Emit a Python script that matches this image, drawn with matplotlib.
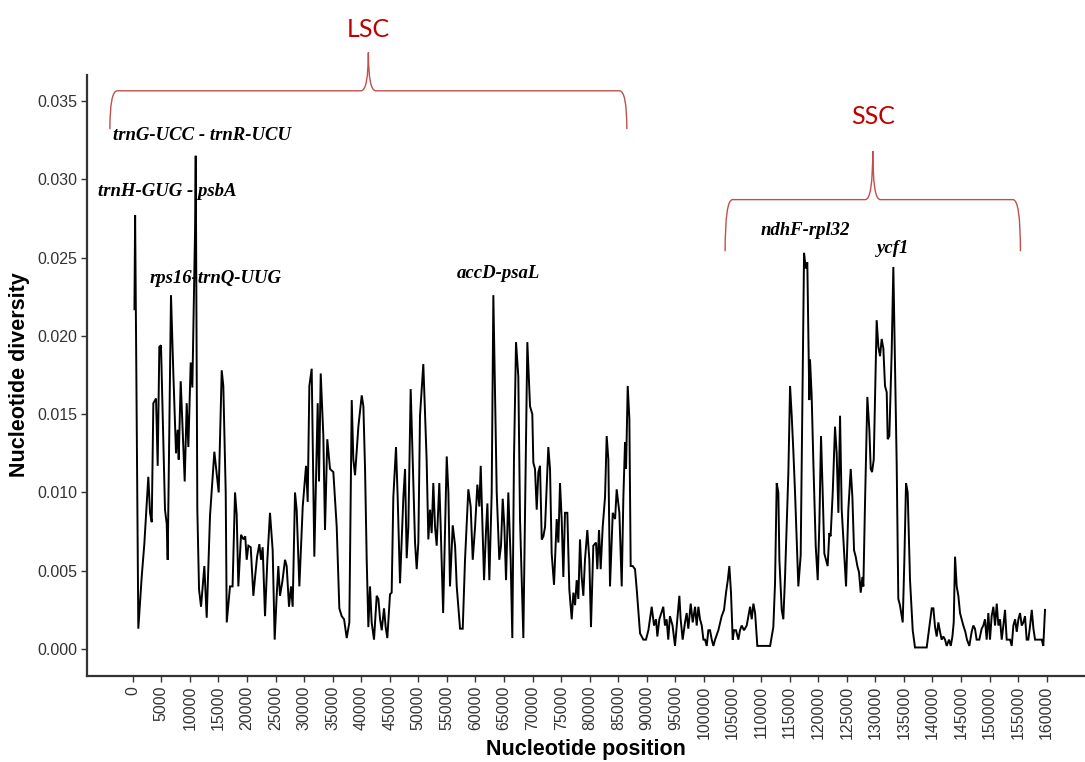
import numpy as np
import matplotlib.pyplot as plt
from matplotlib.path import Path
from matplotlib.patches import PathPatch

# sliding-window nucleotide diversity along the plastome
pos = [300, 420, 980, 1570, 2030, 2730, 3030, 3330, 3610, 4080, 4370, 4660, 4950, 5650, 5950,
       6120, 6700, 7110, 7580, 7870, 8050, 8400, 9100, 9450, 9740, 10150, 10440, 10910, 11030,
       11310, 11610, 11960, 12540, 12950, 13530, 14290, 15050, 15580, 15860, 16280, 16460,
       17030, 17480, 17910, 18200, 18490, 18960, 19400, 19700, 19950, 20250, 20660, 21120,
       21420, 21770, 22170, 22460, 22750, 23160, 23570, 24030, 24500, 24850, 25200, 25490,
       25780, 26190, 26660, 26950, 27360, 27710, 28000, 28410, 28700, 29170, 29760, 30340,
       30630, 30920, 31330, 31790, 32380, 32610, 32910, 33370, 33660, 34060, 34540, 35120,
       35710, 36170, 36580, 37000, 37460, 37920, 38340, 38620, 38920, 39500, 40090, 40380,
       40670, 40960, 41250, 41540, 41830, 42240, 42710, 43000, 43300, 43590, 43990, 44280,
       44570, 45040, 45330, 45620, 46090, 46380, 46790, 47090, 47380, 47670, 47960, 48250,
       48660, 49120, 49420, 49710, 50000, 50290, 50870, 51160, 51450, 51750, 52040, 52330,
       52620, 52920, 53210, 53670, 53910, 54340, 54970, 55260, 55540, 56020, 56430, 56720,
       57300, 57770, 58170, 58750, 59160, 59520, 59930, 60330, 60680, 60920, 61270, 61500,
       61850, 62090, 62430, 62840, 63130, 63720, 64170, 64470, 64770, 65060, 65350, 65750,
       66160, 66450, 66740, 67100, 67500, 67800, 68380, 69080, 69550, 69950, 70130, 70420,
       70720, 71010, 71300, 71600, 71890, 72180, 72750, 73050, 73340, 73750, 74220, 74510,
       74800, 75090, 75380, 75670, 76080, 76430, 76850, 77140, 77430, 77720, 78010, 78300,
       78590, 78880, 79170, 79580, 79930, 80220, 80630, 81100, 81330, 81630, 81920, 82270,
       82680, 82970, 83260, 83550, 84030, 84440, 84720, 85190, 85600, 85890, 86180, 86360,
       86650, 86940, 87170, 87520, 87930, 88230, 88810, 89390, 89850, 90270, 90850, 91260,
       91610, 91840, 92190, 92880, 93170, 93460, 93750, 94040, 94500, 94930, 95340, 95690,
       95920, 96270, 96680, 96970, 97260, 97680, 98030, 98440, 98730, 99020, 99310, 99610,
       99900, 100190, 100480, 100770, 101060, 101360, 101650, 101940, 102520, 103100, 103510,
       103860, 104170, 104440, 104730, 105030, 105260, 105610, 106020, 106310, 106600, 107010,
       107480, 107770, 108070, 108360, 108650, 108950, 109340, 111580, 112140, 112440, 112730,
       113020, 113200, 113610, 113890, 114190, 114770, 115070, 115360, 115650, 115940, 116520,
       116930, 117520, 117810, 118090, 118440, 118560, 118850, 119150, 119560, 119910, 120200,
       120490, 120780, 121070, 121360, 121650, 121940, 122170, 122540, 122940, 123230, 123530,
       123820, 124110, 124400, 124870, 125270, 125690, 125980, 126270, 126560, 126850, 127140,
       127440, 127730, 127900, 128190, 128600, 128950, 129190, 129420, 129720, 130230, 130530,
       130820, 131110, 131400, 131690, 131990, 132160, 132450, 132860, 133150, 133440, 133740,
       134020, 134310, 134790, 135080, 135370, 135660, 136070, 136540, 136940, 138990, 139450,
       139870, 140160, 140450, 140740, 141030, 141320, 141610, 141900, 142200, 142490, 142900,
       143200, 143490, 143720, 143950, 144240, 144530, 144820, 145110, 145400, 145750, 146040,
       146450, 146860, 147150, 147440, 147730, 148200, 148610, 148900, 149190, 149490, 149780,
       150070, 150360, 150660, 150950, 151250, 151540, 151830, 152120, 152410, 152700, 152990,
       153580, 153870, 154160, 154460, 154750, 155040, 155330, 155620, 155910, 156200, 156490,
       156780, 157090, 157380, 157670, 157960, 158250, 158840, 159130, 159400, 159700]

pi = [0.0217, 0.0277, 0.0013, 0.0046, 0.0067, 0.0110, 0.0087, 0.0081, 0.0157, 0.0160, 0.0117,
      0.0193, 0.0194, 0.0089, 0.0080, 0.0057, 0.0226, 0.0176, 0.0125, 0.0140, 0.0121, 0.0171,
      0.0107, 0.0157, 0.0129, 0.0183, 0.0167, 0.0267, 0.0315, 0.0089, 0.0038, 0.0027, 0.0053,
      0.0020, 0.0085, 0.0126, 0.0100, 0.0178, 0.0168, 0.0100, 0.0017, 0.0040, 0.0040, 0.0100,
      0.0086, 0.0040, 0.0073, 0.0070, 0.0072, 0.0057, 0.0066, 0.0065, 0.0034, 0.0046, 0.0059,
      0.0067, 0.0057, 0.0065, 0.0021, 0.0057, 0.0087, 0.0063, 0.0006, 0.0034, 0.0053, 0.0034,
      0.0043, 0.0057, 0.0053, 0.0027, 0.0040, 0.0027, 0.0100, 0.0089, 0.0040, 0.0091, 0.0117,
      0.0094, 0.0168, 0.0179, 0.0059, 0.0157, 0.0107, 0.0176, 0.0136, 0.0076, 0.0134, 0.0115,
      0.0113, 0.0078, 0.0026, 0.0021, 0.0019, 0.0007, 0.0017, 0.0159, 0.0121, 0.0111, 0.0142,
      0.0162, 0.0155, 0.0115, 0.0057, 0.0014, 0.0040, 0.0017, 0.0006, 0.0034, 0.0032, 0.0019,
      0.0012, 0.0026, 0.0014, 0.0007, 0.0035, 0.0036, 0.0097, 0.0129, 0.0097, 0.0042, 0.0070,
      0.0097, 0.0115, 0.0058, 0.0078, 0.0166, 0.0107, 0.0068, 0.0051, 0.0068, 0.0149, 0.0182,
      0.0151, 0.0121, 0.0070, 0.0089, 0.0074, 0.0106, 0.0078, 0.0066, 0.0106, 0.0078, 0.0023,
      0.0123, 0.0100, 0.0040, 0.0079, 0.0066, 0.0040, 0.0013, 0.0013, 0.0057, 0.0102, 0.0091,
      0.0057, 0.0078, 0.0105, 0.0091, 0.0117, 0.0074, 0.0044, 0.0076, 0.0093, 0.0044, 0.0100,
      0.0226, 0.0100, 0.0057, 0.0066, 0.0096, 0.0078, 0.0044, 0.0100, 0.0057, 0.0007, 0.0121,
      0.0196, 0.0174, 0.0083, 0.0007, 0.0196, 0.0155, 0.0150, 0.0119, 0.0115, 0.0089, 0.0113,
      0.0117, 0.0070, 0.0072, 0.0078, 0.0129, 0.0115, 0.0061, 0.0041, 0.0083, 0.0068, 0.0106,
      0.0083, 0.0046, 0.0087, 0.0087, 0.0038, 0.0019, 0.0036, 0.0028, 0.0044, 0.0032, 0.0070,
      0.0046, 0.0034, 0.0057, 0.0076, 0.0057, 0.0014, 0.0066, 0.0068, 0.0051, 0.0076, 0.0051,
      0.0078, 0.0097, 0.0136, 0.0121, 0.0040, 0.0087, 0.0083, 0.0102, 0.0087, 0.0040, 0.0097,
      0.0132, 0.0115, 0.0168, 0.0147, 0.0053, 0.0053, 0.0051, 0.0038, 0.0010, 0.0006, 0.0006,
      0.0012, 0.0027, 0.0015, 0.0019, 0.0008, 0.0019, 0.0027, 0.0015, 0.0019, 0.0006, 0.0021,
      0.0015, 0.0002, 0.0019, 0.0034, 0.0019, 0.0006, 0.0017, 0.0023, 0.0013, 0.0029, 0.0017,
      0.0027, 0.0015, 0.0027, 0.0019, 0.0015, 0.0006, 0.0006, 0.0002, 0.0012, 0.0012, 0.0006,
      0.0002, 0.0006, 0.0012, 0.0021, 0.0025, 0.0036, 0.0044, 0.0053, 0.0036, 0.0006, 0.0012,
      0.0012, 0.0006, 0.0012, 0.0015, 0.0012, 0.0015, 0.0021, 0.0027, 0.0019, 0.0029, 0.0023,
      0.0002, 0.0002, 0.0014, 0.0042, 0.0106, 0.0100, 0.0057, 0.0025, 0.0019, 0.0046, 0.0112,
      0.0168, 0.0149, 0.0126, 0.0100, 0.0040, 0.0060, 0.0253, 0.0243, 0.0247, 0.0159, 0.0185,
      0.0162, 0.0119, 0.0066, 0.0044, 0.0080, 0.0136, 0.0100, 0.0061, 0.0057, 0.0053, 0.0074,
      0.0072, 0.0100, 0.0142, 0.0125, 0.0087, 0.0149, 0.0089, 0.0070, 0.0040, 0.0089, 0.0115,
      0.0097, 0.0063, 0.0059, 0.0053, 0.0049, 0.0036, 0.0046, 0.0040, 0.0093, 0.0161, 0.0140,
      0.0115, 0.0113, 0.0121, 0.0210, 0.0193, 0.0187, 0.0198, 0.0192, 0.0168, 0.0164, 0.0134,
      0.0136, 0.0190, 0.0244, 0.0180, 0.0117, 0.0032, 0.0028, 0.0017, 0.0057, 0.0106, 0.0100,
      0.0044, 0.0012, 0.0001, 0.0001, 0.0014, 0.0026, 0.0026, 0.0014, 0.0008, 0.0017, 0.0011,
      0.0006, 0.0008, 0.0006, 0.0002, 0.0006, 0.0002, 0.0008, 0.0017, 0.0059, 0.0040, 0.0034,
      0.0023, 0.0019, 0.0015, 0.0011, 0.0006, 0.0002, 0.0011, 0.0015, 0.0013, 0.0006, 0.0006,
      0.0013, 0.0015, 0.0019, 0.0006, 0.0023, 0.0006, 0.0021, 0.0027, 0.0015, 0.0029, 0.0015,
      0.0019, 0.0006, 0.0015, 0.0025, 0.0006, 0.0006, 0.0002, 0.0015, 0.0019, 0.0011, 0.0019,
      0.0023, 0.0015, 0.0017, 0.0021, 0.0006, 0.0006, 0.0015, 0.0025, 0.0013, 0.0006, 0.0006,
      0.0006, 0.0006, 0.0002, 0.0025]

# highly variable regions
hotspots = ["trnG-UCC - trnR-UCU", "trnH-GUG - psbA", "rps16-trnQ-UUG", "accD-psaL",
            "ndhF-rpl32", "ycf1"]
hotspot_x = [12130, 6000, 14490, 63950, 117700, 133100]
hotspot_y = [0.0328, 0.0292, 0.02365, 0.0240, 0.0267, 0.0256]

# single-copy regions: name, start, end
regions = ["LSC", "SSC"]
region_start = [-4000, 103700]
region_end = [86500, 155400]
brace_end_y = [0.0332, 0.0254]
brace_bar_y = [0.03565, 0.0287]
brace_tip_y = [0.0381, 0.0318]
region_label_y = [0.03955, 0.0340]

fig = plt.figure(figsize=(10.85, 7.62), dpi=100)
ax = fig.add_axes([0.0802, 0.1129, 0.9198, 0.7887])

ax.plot(pos, pi, color='black', lw=1.4, solid_joinstyle='miter')

ax.set_xlim(-8000, 166700)
ax.set_ylim(-0.00172, 0.03666)
ax.set_xticks(np.arange(0, 160001, 5000))
ax.set_xticklabels([str(v) for v in range(0, 160001, 5000)], rotation=90)
ax.set_yticks(np.arange(0, 0.0351, 0.005))
ax.set_yticklabels(['%.3f' % v for v in np.arange(0, 0.0351, 0.005)])

for s in ['top', 'right']:
    ax.spines[s].set_visible(False)
for s in ['left', 'bottom']:
    ax.spines[s].set_color('#333333')
    ax.spines[s].set_linewidth(1.6)
ax.tick_params(direction='out', length=4, width=1.0, color='#333333',
               labelcolor='#333333', labelsize=11.5, pad=3)
for lab in ax.get_xticklabels() + ax.get_yticklabels():
    lab.set_fontfamily('Liberation Sans')

fig.text(586 / 1085, 1 - 749 / 762, 'Nucleotide position', ha='center', va='center',
         fontsize=15.5, fontweight='bold', family='Liberation Sans')
fig.text(20 / 1085, 1 - 375 / 762, 'Nucleotide diversity', ha='center', va='center',
         rotation=90, fontsize=15.5, fontweight='bold', family='Liberation Sans')

for name, x, y in zip(hotspots, hotspot_x, hotspot_y):
    ax.text(x, y, name, ha='center', va='center', fontsize=13.5, fontweight='bold',
            fontstyle='italic', family='Liberation Serif', clip_on=False)


def brace(ax, x0, x1, y_end, y_bar, y_tip, w=1300, color='#c0504d'):
    xm = (x0 + x1) / 2
    verts = [(x0, y_end), (x0, y_bar), (x0 + w, y_bar), (xm - w, y_bar),
             (xm, y_bar), (xm, y_tip), (xm, y_bar), (xm + w, y_bar),
             (x1 - w, y_bar), (x1, y_bar), (x1, y_end)]
    codes = [Path.MOVETO, Path.CURVE3, Path.CURVE3, Path.LINETO,
             Path.CURVE3, Path.CURVE3, Path.CURVE3, Path.CURVE3,
             Path.LINETO, Path.CURVE3, Path.CURVE3]
    p = PathPatch(Path(verts, codes), fc='none', ec=color, lw=1.0, clip_on=False)
    ax.add_patch(p)
    return xm


for i, name in enumerate(regions):
    xm = brace(ax, region_start[i], region_end[i], brace_end_y[i], brace_bar_y[i],
               brace_tip_y[i])
    ax.text(xm, region_label_y[i], name, ha='center', va='center', color='#c00000',
            fontsize=18, family='Lato', clip_on=False)

fig.savefig('out.png', dpi=100, facecolor='white')
